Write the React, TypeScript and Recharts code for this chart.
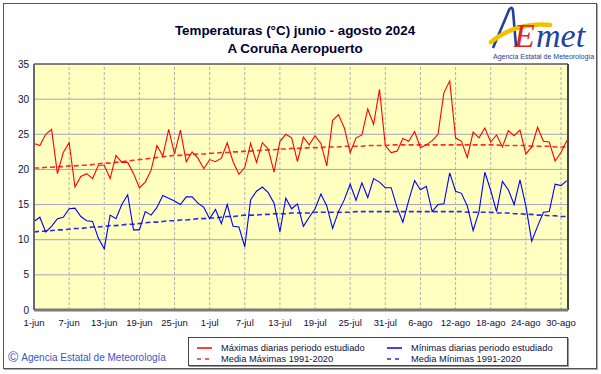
import React from "react";
import { LineChart, Line, XAxis, YAxis, CartesianGrid, ReferenceLine } from "recharts";

// daily values, 1-jun .. 31-ago 2024 (92 days)
const maxTemps = [
  23.7, 23.4, 25.0, 25.7, 19.4, 22.4, 23.8, 17.5, 19.0, 19.4, 18.7, 20.6, 20.6, 18.7, 22.0, 21.0,
  21.0, 19.4, 17.4, 18.2, 19.9, 23.4, 21.9, 25.7, 22.2, 25.6, 21.1, 22.5, 21.6, 20.1, 21.4, 21.1,
  21.6, 23.8, 21.1, 19.3, 20.3, 23.7, 21.0, 23.8, 22.9, 19.6, 24.0, 25.0, 24.5, 21.1, 24.6, 23.5,
  24.8, 23.7, 20.5, 27.0, 27.8, 25.9, 22.4, 24.5, 24.9, 28.6, 26.4, 31.4, 23.4, 22.4, 22.6, 24.4,
  24.0, 25.4, 23.1, 23.5, 24.1, 25.0, 30.9, 32.6, 24.5, 24.0, 21.7, 25.3, 24.5, 25.9, 23.9, 24.9,
  23.2, 25.5, 24.8, 25.6, 22.2, 23.2, 26.0, 24.0, 23.9, 21.2, 22.4, 24.1,
];

const minTemps = [
  12.6, 13.2, 11.1, 11.9, 13.0, 13.2, 14.4, 14.5, 13.3, 12.7, 12.6, 10.2, 8.7, 13.5, 13.0, 15.0,
  16.4, 11.4, 11.4, 14.0, 13.5, 14.6, 16.3, 15.9, 15.5, 15.0, 16.1, 16.1, 15.2, 14.6, 13.0, 14.3,
  12.3, 15.0, 11.9, 11.8, 9.0, 15.7, 16.9, 17.5, 16.7, 15.2, 11.1, 15.9, 14.4, 15.1, 11.9, 13.2,
  14.4, 16.5, 14.8, 11.6, 14.0, 15.7, 17.9, 15.6, 18.1, 16.0, 18.7, 18.2, 17.4, 17.4, 14.6, 12.5,
  15.6, 18.4, 17.1, 17.6, 14.0, 15.0, 15.1, 19.5, 16.9, 16.6, 14.8, 11.3, 14.0, 19.6, 17.0, 14.0,
  18.3, 17.1, 15.0, 18.5, 14.8, 9.8, 11.9, 13.9, 14.0, 17.9, 17.7, 18.4,
];

// 1991-2020 normals
const maxNormal = [
  20.2, 20.2, 20.3, 20.3, 20.4, 20.4, 20.5, 20.5, 20.6, 20.6, 20.7, 20.8, 20.9, 20.9, 21.0, 21.1,
  21.2, 21.3, 21.4, 21.5, 21.6, 21.7, 21.8, 21.9, 22.0, 22.0, 22.1, 22.1, 22.2, 22.2, 22.3, 22.3,
  22.4, 22.4, 22.5, 22.5, 22.6, 22.6, 22.7, 22.7, 22.8, 22.8, 22.9, 22.9, 23.0, 23.0, 23.0, 23.1,
  23.1, 23.1, 23.2, 23.2, 23.2, 23.3, 23.3, 23.3, 23.3, 23.4, 23.4, 23.4, 23.4, 23.5, 23.5, 23.5,
  23.5, 23.5, 23.5, 23.5, 23.5, 23.5, 23.5, 23.5, 23.5, 23.5, 23.5, 23.5, 23.5, 23.5, 23.5, 23.5,
  23.4, 23.4, 23.4, 23.4, 23.4, 23.3, 23.3, 23.3, 23.3, 23.2, 23.2, 23.2,
];

const minNormal = [
  11.1, 11.2, 11.2, 11.3, 11.4, 11.4, 11.5, 11.6, 11.6, 11.7, 11.8, 11.8, 11.9, 12.0, 12.0, 12.1,
  12.2, 12.2, 12.3, 12.4, 12.5, 12.5, 12.6, 12.7, 12.7, 12.8, 12.8, 12.9, 13.0, 13.0, 13.1, 13.1,
  13.2, 13.3, 13.3, 13.4, 13.5, 13.5, 13.5, 13.6, 13.6, 13.7, 13.7, 13.7, 13.8, 13.8, 13.8, 13.8,
  13.9, 13.9, 13.9, 13.9, 13.9, 13.9, 13.9, 14.0, 14.0, 14.0, 14.0, 14.0, 14.0, 14.0, 14.0, 14.0,
  14.0, 14.0, 14.0, 14.0, 14.0, 14.0, 14.0, 14.0, 14.0, 14.0, 13.9, 13.9, 13.9, 13.9, 13.9, 13.8,
  13.8, 13.8, 13.7, 13.7, 13.6, 13.6, 13.5, 13.5, 13.4, 13.4, 13.3, 13.3,
];

const tickDays = [0, 6, 12, 18, 24, 30, 36, 42, 48, 54, 60, 66, 72, 78, 84, 90];
const tickLabels = [
  "1-jun", "7-jun", "13-jun", "19-jun", "25-jun", "1-jul", "7-jul", "13-jul",
  "19-jul", "25-jul", "31-jul", "6-ago", "12-ago", "18-ago", "24-ago", "30-ago",
];
const yTicks = [0, 5, 10, 15, 20, 25, 30, 35];

const X_MAX = 91.2;
const FONT = "'Liberation Sans', Arial, sans-serif";
const TEXT = "#10103a";

const data = maxTemps.map((v, i) => ({
  day: i,
  max: v,
  min: minTemps[i],
  maxN: maxNormal[i],
  minN: minNormal[i],
}));

function LegendItem({ color, dashed, label }: { color: string; dashed?: boolean; label: string }) {
  return (
    <div style={{ display: "flex", alignItems: "center", height: 11 }}>
      <svg width={20} height={6} style={{ marginRight: 6 }}>
        <line x1={2} y1={3} x2={17} y2={3} stroke={color} strokeWidth={1.5} strokeDasharray={dashed ? "4 4" : undefined} />
      </svg>
      <span>{label}</span>
    </div>
  );
}

function Logo() {
  return (
    <svg width={108} height={62} style={{ position: "absolute", left: 488, top: 2 }}>
      <path d="M 5 46 L 21 8 Q 24 3 25 9 L 28 44" fill="none" stroke="#24409a" strokeWidth={2.6} />
      <path d="M 3 40 Q 28 20 62 23" fill="none" stroke="#f2c200" strokeWidth={4.5} strokeLinecap="round" />
      <text x={26} y={45} fontSize={34} fontStyle="italic" fontFamily="'Liberation Serif', serif" fill="#e2231a">E</text>
      <text x={48} y={45} fontSize={34} fontStyle="italic" fontFamily="'Liberation Serif', serif" fill="#24409a">met</text>
      <text x={5} y={57} fontSize={7} fontFamily={FONT} fill="#24409a">Agencia Estatal de Meteorología</text>
    </svg>
  );
}

export default function App() {
  return (
    <div style={{ position: "absolute", left: 0, top: 0, width: 601, height: 374, background: "#fff", fontFamily: FONT, color: TEXT }}>
      <div style={{ position: "absolute", left: 3, top: 3, width: 592, height: 364, border: "1px solid #555", boxShadow: "1px 1px 0 #aaa" }} />

      <div style={{ position: "absolute", left: 0, top: 22, width: 590, textAlign: "center", fontWeight: "bold", fontSize: 13.4, lineHeight: "18px", color: "#000030" }}>
        <div>Temperaturas (°C) junio - agosto 2024</div>
        <div>A Coruña Aeropuerto</div>
      </div>

      <Logo />

      <div style={{ position: "absolute", left: 0, top: 0 }}>
        <LineChart width={601} height={374} data={data} margin={{ top: 64, right: 33, bottom: 44, left: 0 }}>
          <CartesianGrid vertical={false} stroke="#a4a4c4" fill="#ffffc0" />
          {tickDays.slice(1).map((d) => (
            <ReferenceLine key={d} x={d} stroke="#b0b0b0" strokeDasharray="3 2" />
          ))}
          <XAxis
            dataKey="day"
            type="number"
            domain={[0, X_MAX]}
            ticks={tickDays}
            tickFormatter={(v: number) => tickLabels[tickDays.indexOf(v)]}
            interval={0}
            height={20}
            tickLine={false}
            tickSize={6}
            tickMargin={3}
            axisLine={{ stroke: "#7a7a7a", strokeWidth: 3 }}
            tick={{ fontSize: 9.5, fill: TEXT, fontFamily: FONT }}
          />
          <YAxis
            type="number"
            domain={[0, 35]}
            ticks={yTicks}
            width={34}
            tickLine={false}
            tickSize={3}
            tickMargin={2}
            axisLine={{ stroke: "#6a6a6a", strokeWidth: 2 }}
            tick={{ fontSize: 10, fill: TEXT, fontFamily: FONT }}
          />
          <ReferenceLine y={35} stroke="#333" strokeWidth={1} />
          <ReferenceLine x={X_MAX} stroke="#444" strokeWidth={2} />
          <Line dataKey="maxN" stroke="#ff2a2a" strokeWidth={1.6} strokeDasharray="5 3" dot={false} isAnimationActive={false} />
          <Line dataKey="minN" stroke="#2a2aee" strokeWidth={1.6} strokeDasharray="5 3" dot={false} isAnimationActive={false} />
          <Line dataKey="max" stroke="#ff0000" strokeWidth={1.1} dot={false} isAnimationActive={false} />
          <Line dataKey="min" stroke="#0000ff" strokeWidth={1.1} dot={false} isAnimationActive={false} />
        </LineChart>
      </div>

      <div style={{ position: "absolute", left: 8, top: 351, display: "flex", alignItems: "center", fontSize: 10, color: "#3556c8" }}>
        <span style={{ fontSize: 14, marginRight: 3, lineHeight: "12px" }}>©</span>
        <span>Agencia Estatal de Meteorología</span>
      </div>

      <div
        style={{
          position: "absolute", left: 188, top: 337, width: 380, height: 29, border: "1px solid #444",
          boxShadow: "1px 1px 0 #999", fontSize: 9.3, display: "flex", paddingTop: 4, boxSizing: "border-box",
        }}
      >
        <div style={{ marginLeft: 6, width: 190 }}>
          <LegendItem color="#ff0000" label="Máximas diarias periodo estudiado" />
          <LegendItem color="#ff2a2a" dashed label="Media Máximas 1991-2020" />
        </div>
        <div>
          <LegendItem color="#0000ff" label="Mínimas diarias periodo estudiado" />
          <LegendItem color="#2a2aee" dashed label="Media Mínimas 1991-2020" />
        </div>
      </div>
    </div>
  );
}
